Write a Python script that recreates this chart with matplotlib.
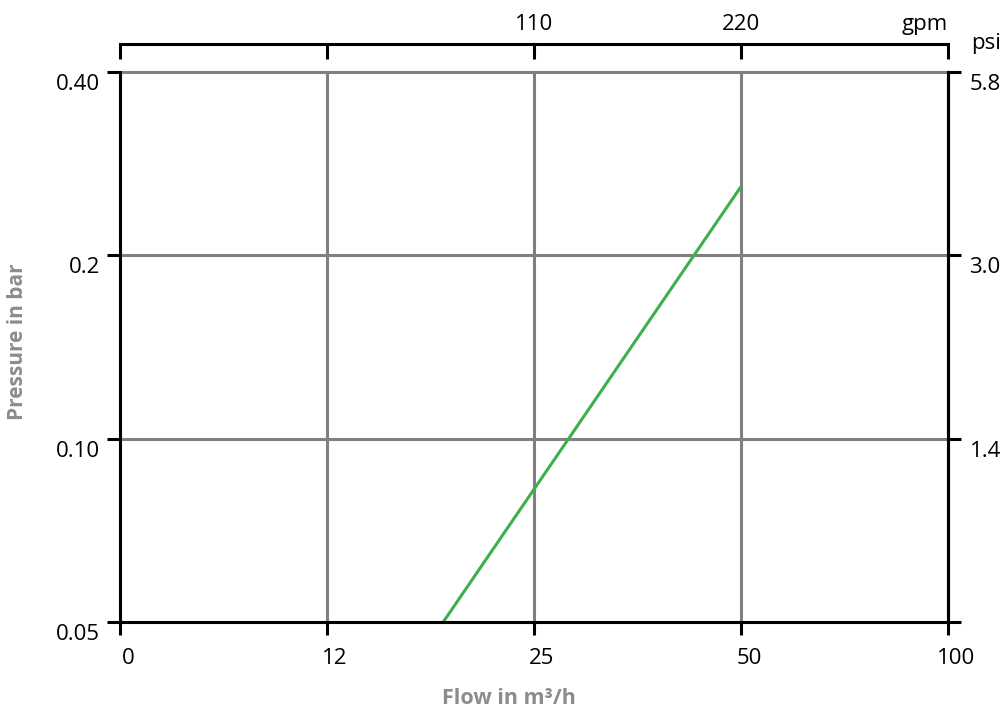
import matplotlib
matplotlib.use("Agg")
import matplotlib.pyplot as plt
import matplotlib.transforms as mtransforms
import numpy as np

# axis tick values (equally spaced on the chart)
flow_ticks = [0, 12, 25, 50, 100]
gpm_labels = ["", "", "110", "220", "gpm"]
bar_ticks = [0.05, 0.10, 0.2, 0.40]
bar_labels = ["0.05", "0.10", "0.2", "0.40"]
psi_labels = ["", "1.4", "3.0", "5.8"]

# pressure drop curve
flow = [19.3, 50]
pressure = [0.05, 0.275]

GRID = "#808080"
LW = 2.2

plt.rcParams["font.family"] = ["Open Sans", "DejaVu Sans"]


def grid_scale(ticks):
    """Piecewise scale that puts every tick the same distance apart."""
    pos = np.arange(len(ticks), dtype=float)

    def fwd(v):
        return np.interp(v, ticks, pos)

    def inv(p):
        return np.interp(p, pos, ticks)

    return fwd, inv


fig = plt.figure(figsize=(10.06, 7.11), dpi=100)
ax = fig.add_axes([120 / 1006, 89 / 711, 828 / 1006, 550 / 711])


def shift_labels(axis, dx, dy):
    # dx, dy in pixels
    off = mtransforms.ScaledTranslation(dx / 100, dy / 100, fig.dpi_scale_trans)
    for t in axis.get_major_ticks():
        t.label1.set_transform(t.label1.get_transform() + off)
        t.label2.set_transform(t.label2.get_transform() + off)


ax.set_xscale("function", functions=grid_scale(flow_ticks))
ax.set_yscale("function", functions=grid_scale(bar_ticks))
ax.set_xlim(flow_ticks[0], flow_ticks[-1])
ax.set_ylim(bar_ticks[0], bar_ticks[-1])
ax.set_xticks(flow_ticks, [str(t) for t in flow_ticks])
ax.set_yticks(bar_ticks, bar_labels)
ax.set_axisbelow(True)
ax.grid(True, color=GRID, lw=LW)
for gl in ax.get_xgridlines() + ax.get_ygridlines():
    gl.set_clip_on(False)
ax.spines["top"].set_visible(False)
for s in ["left", "bottom", "right"]:
    ax.spines[s].set_linewidth(LW)
ax.tick_params(direction="out", length=9.5, width=LW, labelsize=16, pad=5)
ax.tick_params(axis="x", pad=9)
shift_labels(ax.xaxis, 8, 0)
shift_labels(ax.yaxis, 0, -10)

ax.plot(flow, pressure, color="#3cb04a", lw=2.2, solid_capstyle="butt")

ax.set_xlabel("Flow in m³/h", color="#8c8c8c", fontweight="bold", fontsize=15.5)
ax.xaxis.set_label_coords((509 - 120) / 828, (622 - 698) / 550)
ax.xaxis.label.set_va("center")
ax.set_ylabel("Pressure in bar", color="#8c8c8c", fontweight="bold", fontsize=15)
ax.yaxis.set_label_coords((17 - 120) / 828, (622 - 342) / 550)
ax.yaxis.label.set_va("center")

# right axis in psi
axr = ax.twinx()
axr.set_yscale("function", functions=grid_scale(bar_ticks))
axr.set_ylim(bar_ticks[0], bar_ticks[-1])
axr.set_yticks(bar_ticks, psi_labels)
for s in ["left", "top", "bottom"]:
    axr.spines[s].set_visible(False)
axr.spines["right"].set_linewidth(LW)
axr.tick_params(direction="out", length=9.5, width=LW, labelsize=16, pad=6)
shift_labels(axr.yaxis, 0, -10)

# top axis in gpm, set off above the plot
axt = ax.twiny()
axt.set_xscale("function", functions=grid_scale(flow_ticks))
axt.set_xlim(flow_ticks[0], flow_ticks[-1])
axt.set_xticks(flow_ticks, gpm_labels)
for s in ["left", "right", "bottom"]:
    axt.spines[s].set_visible(False)
axt.spines["top"].set_linewidth(LW)
axt.spines["top"].set_position(("outward", 20))
axt.tick_params(direction="in", length=11, width=LW, labelsize=16, pad=7)
axt.get_xticklabels()[-1].set_ha("right")

fig.text(986 / 1006, 1 - 44 / 711, "psi", fontsize=16, ha="center", va="center")

fig.savefig("out.png", dpi=100)
